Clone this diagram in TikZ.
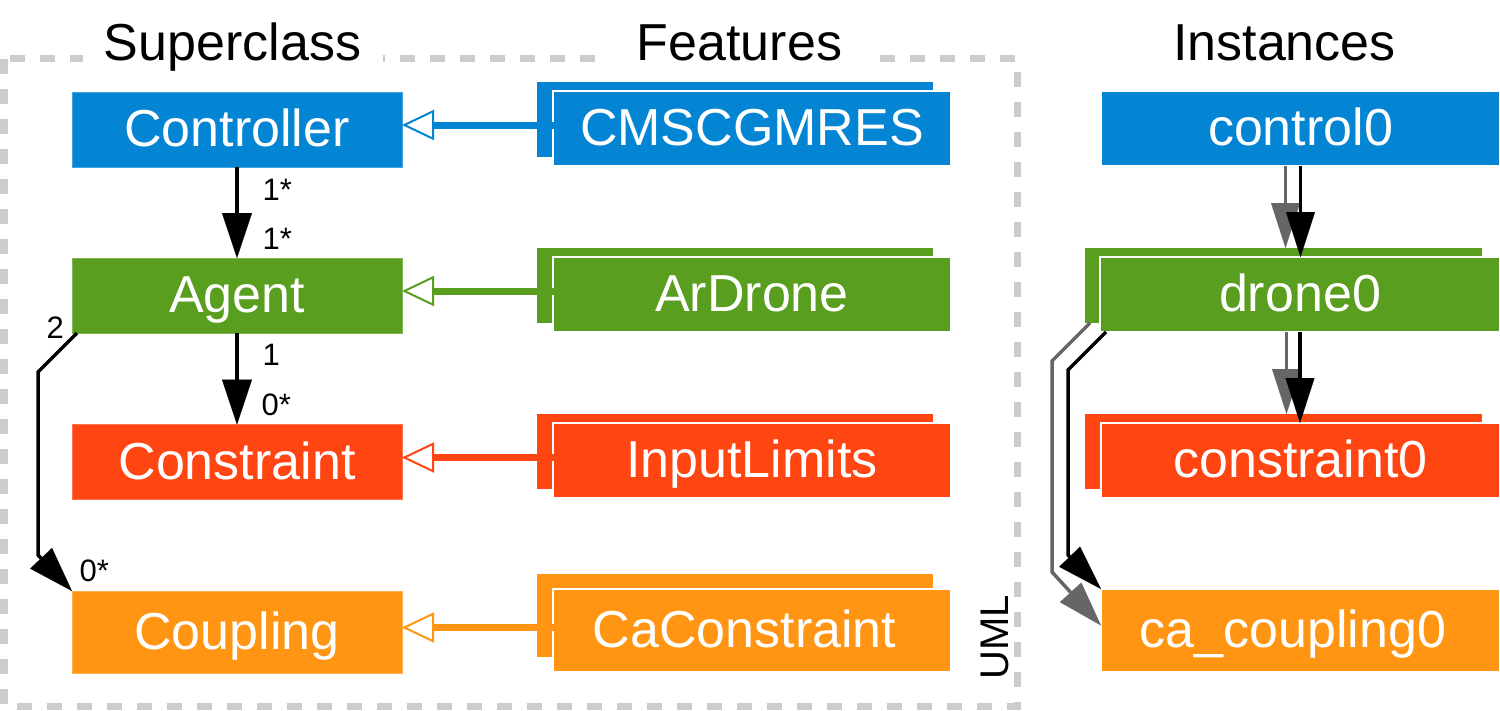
\documentclass[tikz,border=0pt]{standalone}
\usepackage{fontspec}
\setmainfont{Liberation Sans}
\usetikzlibrary{arrows.meta}
\definecolor{cblue}{HTML}{0385D3}
\definecolor{cgreen}{HTML}{599E1E}
\definecolor{cred}{HTML}{FF4512}
\definecolor{corange}{HTML}{FF9512}
\definecolor{cdash}{HTML}{CCCCCC}
\definecolor{cgray}{HTML}{666666}
\begin{document}
\begin{tikzpicture}[x=1pt,y=-1pt,
  box/.style={rectangle, inner sep=0pt, outer sep=0pt, text=white,
    font=\fontsize{52}{60}\selectfont, text height=34pt, text depth=0pt,
    minimum height=75pt},
  cls/.style={box, minimum width=330pt, fill=#1, draw=#1!75!white, line width=1pt},
  backbox/.style={rectangle, inner sep=0pt, outer sep=0pt, minimum width=396pt,
    minimum height=75pt, fill=#1},
  frontbox/.style={box, minimum width=398pt, fill=#1, draw=white, line width=1.5pt},
  title/.style={anchor=base, fill=white, font=\fontsize{52}{60}\selectfont,
    text depth=12pt, inner xsep=0pt},
  lbl/.style={anchor=base west, font=\fontsize{31}{37}\selectfont},
  frame/.style={draw=cdash, line width=7pt, dash pattern=on 15pt off 15pt},
  gen/.style={draw=#1, line width=7pt,
    -{Triangle[open, length=32pt, width=30pt, line width=2pt]}},
  uml/.style={draw=black, line width=3.5pt,
    -{Triangle[length=45pt, width=30pt, line width=0.1pt]}},
  inst/.style={draw=#1, line width=3.5pt,
    -{Triangle[length=45pt, width=29pt, line width=0.1pt]}},
]
\useasboundingbox (0,0) rectangle (1500,710);
\draw[frame] (4,58.5) rectangle (1017,706);

% titles
\node[title, minimum width=300pt] (tsup) at (232.5,60) {Superclass};
\node[title, minimum width=266pt] (tfeat) at (739.5,60) {Features};
\node[title] (tinst) at (1284.5,60) {Instances};

% superclass boxes
\node[cls=cblue] (ctrl) at (237,129.5) {Controller};
\node[cls=cgreen] (agent) at (237,295.5) {Agent};
\node[cls=cred] (cons) at (237,462) {Constraint};
\node[cls=corange, minimum height=82pt] (coup) at (237,632) {Coupling};

% feature back boxes
\node[backbox=cblue] (fb1) at (735,119.5) {};
\node[backbox=cgreen] (fb2) at (735,285.5) {};
\node[backbox=cred] (fb3) at (735,451.5) {};
\node[backbox=corange, minimum height=83pt] (fb4) at (735,615.5) {};
% instance back boxes
\node[backbox=cgreen, minimum width=397pt] (ib2) at (1283.5,285.5) {};
\node[backbox=cred, minimum width=397pt] (ib3) at (1283.5,451.5) {};

% feature front boxes
\node[frontbox=cblue] (f1) at (752,128.5) {CMSCGMRES};
\node[frontbox=cgreen] (f2) at (752,294.5) {ArDrone};
\node[frontbox=cred] (f3) at (752,460.5) {InputLimits};
\node[frontbox=corange, minimum height=83pt] (f4) at (752,630.5) {CaConstraint\hspace*{15pt}};

% instances
\node[frontbox=cblue, minimum width=399pt] (i1) at (1300.5,128.5) {control0};
\node[frontbox=cgreen, minimum width=400pt] (i2) at (1300,294.5) {drone0};
\node[frontbox=cred, minimum width=399pt] (i3) at (1300.5,460.5) {constraint0};
\node[frontbox=corange, minimum width=399pt, minimum height=83pt] (i4) at (1300.5,630.5) {ca\_coupling0\hspace*{15pt}};

% UML label
\node[rotate=90, anchor=base, font=\fontsize{40}{48}\selectfont] (umltxt) at (1008,637) {UML};

% generalization connectors
\coordinate (g1) at ([yshift=4.5pt]ctrl.east);
\coordinate (g2) at ([yshift=4.5pt]agent.east);
\coordinate (g3) at ([yshift=4.5pt]cons.east);
\coordinate (g4) at ([yshift=4.5pt]coup.east);
\coordinate (s1) at (g1 -| f1.west);
\coordinate (s2) at (g2 -| f2.west);
\coordinate (s3) at (g3 -| f3.west);
\coordinate (s4) at (g4 -| f4.west);
\draw[gen=cblue] ([xshift=3pt]s1) -- (g1);
\draw[gen=cgreen] ([xshift=3pt]s2) -- (g2);
\draw[gen=cred] ([xshift=3pt]s3) -- (g3);
\draw[gen=corange] ([xshift=3pt]s4) -- (g4);

% UML associations
\draw[uml] (ctrl.south) -- (agent.north);
\draw[uml] (agent.south) -- (cons.north);
\draw[uml] ([xshift=5pt]agent.south west) -- ++(-39,39) -- ++(0,183) -- (coup.north west);

\node[lbl] (m1) at (259,200) {1*};
\node[lbl] (m2) at (259,249) {1*};
\node[lbl] (m3) at (259,365) {1};
\node[lbl] (m4) at (258,415) {0*};
\node[lbl] (m5) at (43,338) {2};
\node[lbl] (m6) at (76,581) {0*};

% instance connectors (gray first, black on top)
\draw[inst=cgray] ([xshift=-15pt]i1.south) -- ([xshift=2pt]ib2.north);
\draw[inst=cgray] ([xshift=-13.5pt]i2.south) -- ([xshift=3pt]ib3.north);
\draw[inst=cgray] ([xshift=5pt]ib2.south west) -- ++(-38,38) -- ++(0,211) -- ([yshift=5pt]i4.west);
\draw[inst=black] (i1.south) -- (i1.south |- i2.north);
\draw[inst=black] (i2.south) -- (i2.south |- i3.north);
\draw[inst=black] ([xshift=6pt]i2.south west) -- ++(-38,38) -- ++(0,185) -- (i4.north west);
\end{tikzpicture}
\end{document}
